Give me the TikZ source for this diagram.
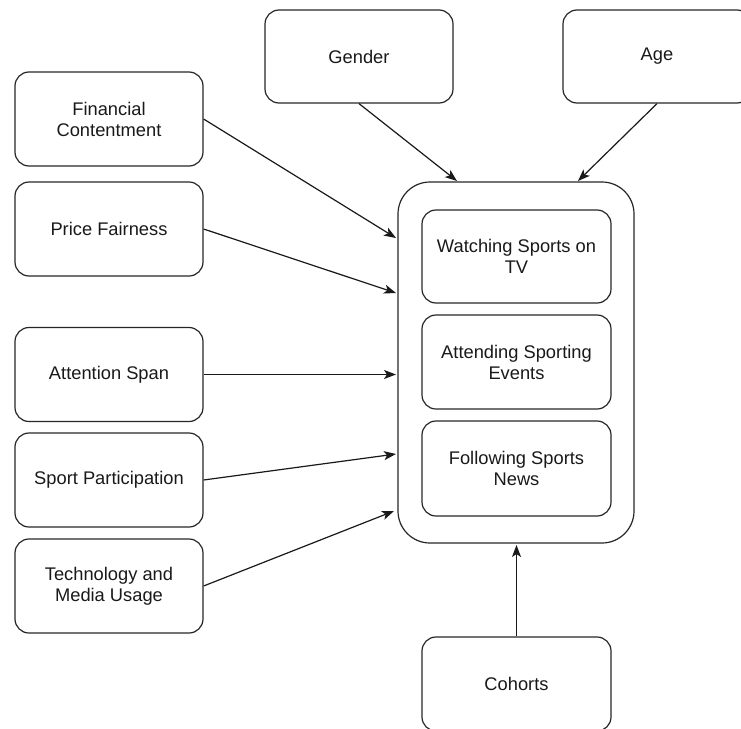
\documentclass[tikz,border=0pt]{standalone}
\usepackage{fontspec}
\setmainfont{Liberation Sans}
\usetikzlibrary{arrows.meta}
\begin{document}
\begin{tikzpicture}[x=1pt,y=-1pt,
  box/.style={draw=black!85, line width=1.2pt, rounded corners=14pt, minimum width=188pt, minimum height=94pt, align=center, font=\fontsize{18.3}{21}\selectfont, text=black!90, inner sep=0pt},
  conn/.style={draw=black!90, line width=1.2pt, -{Stealth[length=12pt,width=9pt,inset=3pt]}}]
\useasboundingbox (0,0) rectangle (741,728);
\node[box] (fin) at (109,119) {Financial\\Contentment};
\node[box] (price) at (109,229) {Price Fairness};
\node[box] (attn) at (109,374.5) {Attention Span};
\node[box] (sport) at (109,480) {Sport Participation};
\node[box] (tech) at (109,586) {Technology and\\Media Usage};
\node[box, minimum height=93pt] (gender) at (359,56.5) {Gender};
\node[box, minimum height=93pt] (age) at (657,56.5) {Age};
\node[draw=black!85, line width=1.2pt, rounded corners=32pt, minimum width=236pt, minimum height=361pt] (cont) at (516,362.5) {};
\node[box, minimum width=189pt, minimum height=93pt] (watch) at (516.5,256.5) {Watching Sports on\\TV};
\node[box, minimum width=189pt, minimum height=94pt] (attend) at (516.5,362) {Attending Sporting\\Events};
\node[box, minimum width=189pt, minimum height=95pt] (follow) at (516.5,468.5) {Following Sports\\News};
\node[box, minimum width=189pt] (coh) at (516.5,684) {Cohorts};
\coordinate (efin) at (396,238);
\coordinate (eprice) at (396,293);
\coordinate (eattn) at (396,374.5);
\coordinate (esport) at (396,454);
\coordinate (etech) at (394,511);
\coordinate (egender) at (457,181);
\coordinate (eage) at (578,181);
\coordinate (ecoh) at (516.5,545);
\draw[conn] (fin.east) -- (efin);
\draw[conn] (price.east) -- (eprice);
\draw[conn] (attn.east) -- (eattn);
\draw[conn] (sport.east) -- (esport);
\draw[conn] (tech.east) -- (etech);
\draw[conn] (gender.south) -- (egender);
\draw[conn] (age.south) -- (eage);
\draw[conn] (coh.north) -- (ecoh);
\end{tikzpicture}
\end{document}
